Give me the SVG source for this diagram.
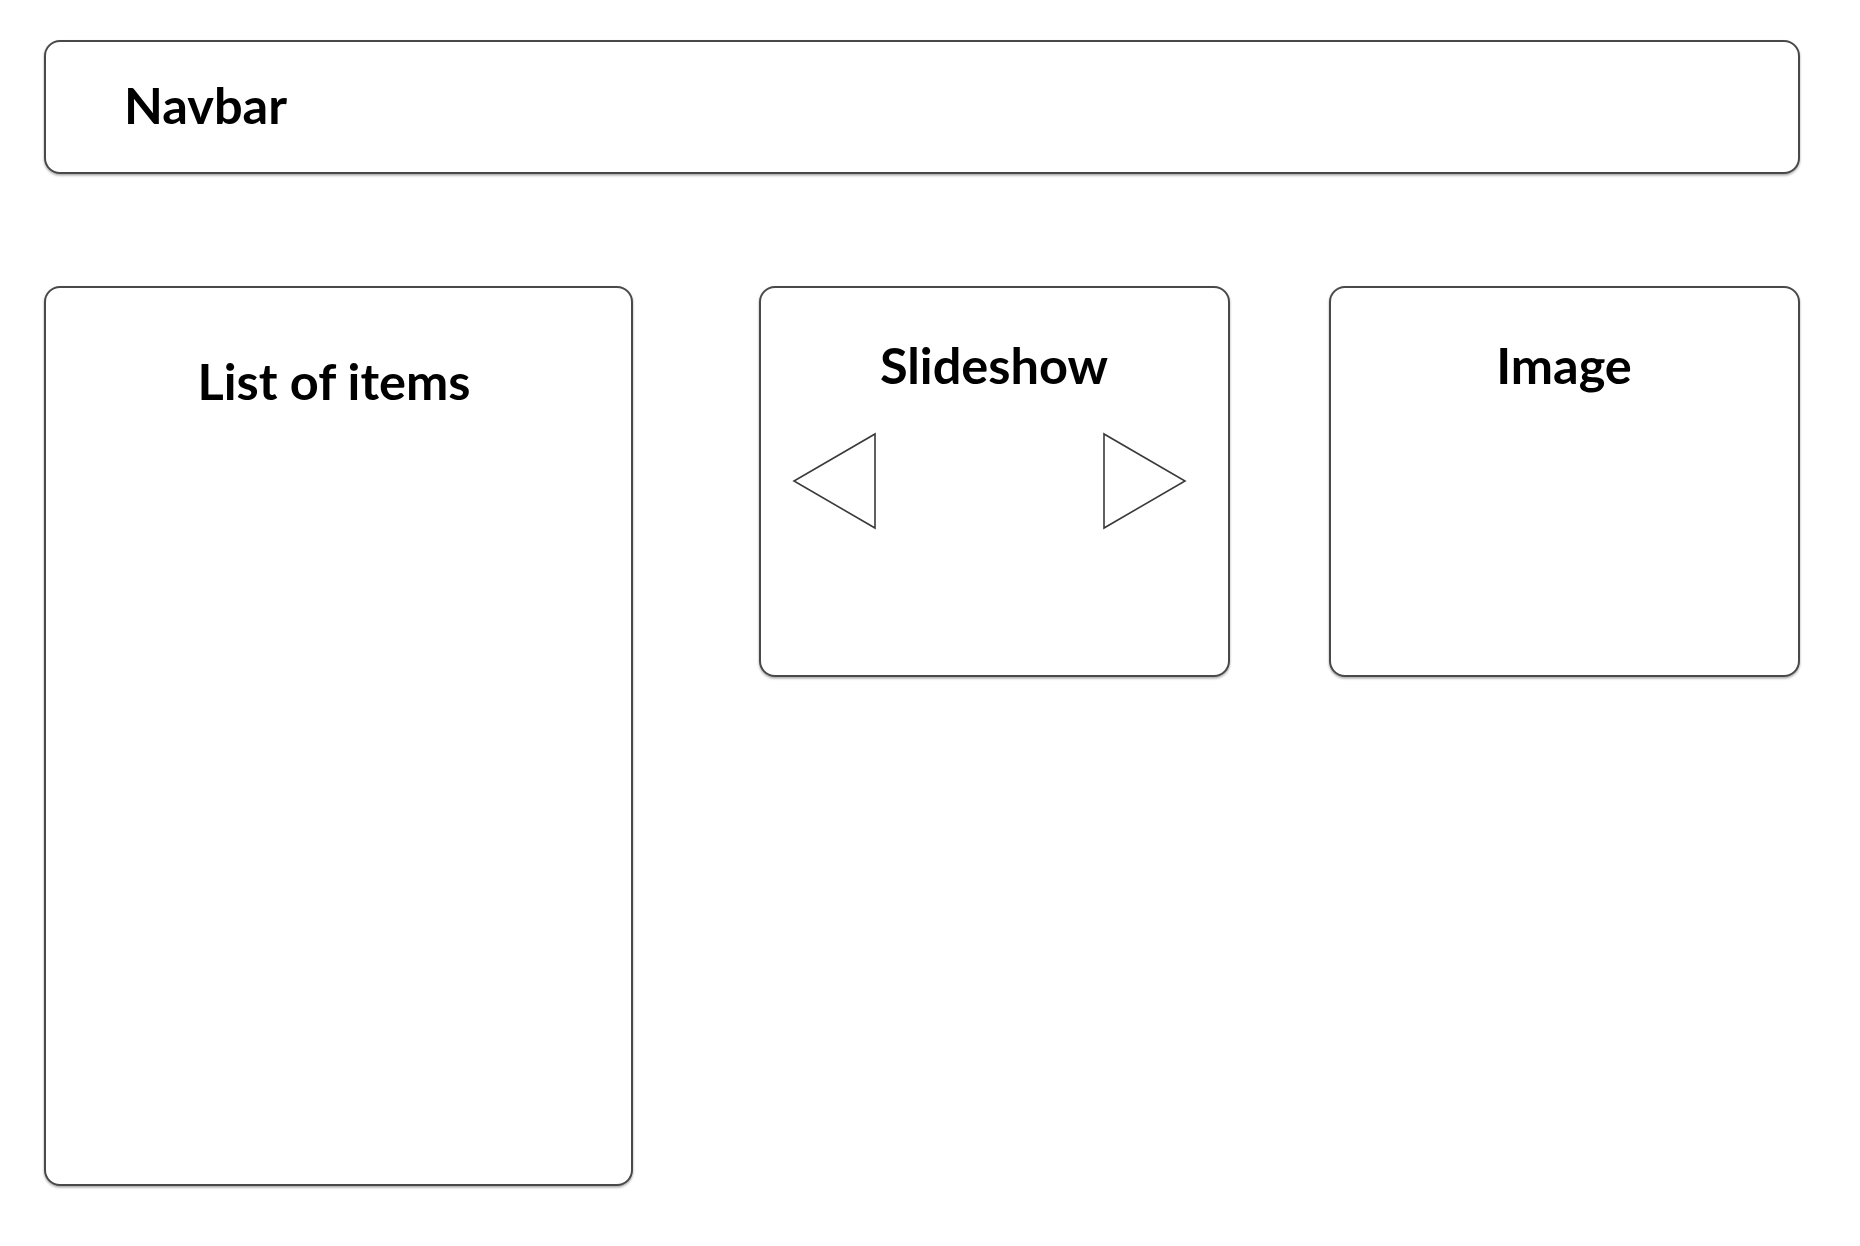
<svg xmlns="http://www.w3.org/2000/svg" width="1860" height="1246" viewBox="0 0 1860 1246">
<defs>
<filter id="sh" x="-5%" y="-5%" width="110%" height="110%">
<feDropShadow dx="0" dy="1.5" stdDeviation="0.8" flood-color="#000" flood-opacity="0.35"/>
</filter>
</defs>
<style>
.box{fill:#fff;stroke:#4a4a4a;stroke-width:2;filter:url(#sh)}
.tri{fill:#fff;stroke:#3a3a3a;stroke-width:1.6}
.lbl{font-family:"Lato","Open Sans","Liberation Sans",sans-serif;font-weight:bold;font-size:50.5px;fill:#000}
</style>
<rect width="1860" height="1246" fill="#fff"/>
<g id="navbar">
<rect class="box" x="45" y="41" width="1754" height="132" rx="15"/>
<text class="lbl" x="124" y="124">Navbar</text>
</g>
<g id="list">
<rect class="box" x="45" y="287" width="587" height="898" rx="15"/>
<text class="lbl" x="334" y="400" text-anchor="middle">List of items</text>
</g>
<g id="slideshow">
<rect class="box" x="760" y="287" width="469" height="389" rx="15"/>
<text class="lbl" x="994" y="384" text-anchor="middle">Slideshow</text>
<polygon class="tri" points="875,434 875,528 794,481"/>
<polygon class="tri" points="1104,434 1104,528 1185,481"/>
</g>
<g id="image">
<rect class="box" x="1330" y="287" width="469" height="389" rx="15"/>
<text class="lbl" x="1564" y="384" text-anchor="middle">Image</text>
</g>
<g id="connectors"/>
</svg>
